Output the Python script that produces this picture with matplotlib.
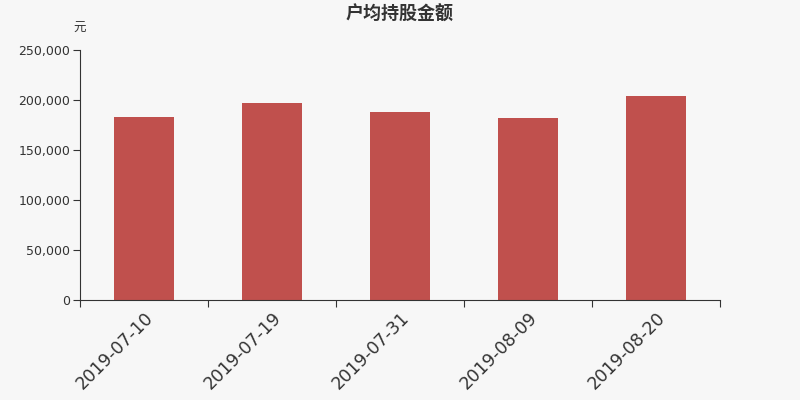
import matplotlib
matplotlib.use("Agg")
import matplotlib.pyplot as plt
from matplotlib.ticker import FuncFormatter, FixedLocator
import numpy as np

plt.rcParams['font.family'] = ['DejaVu Sans', 'Noto Sans CJK SC']

categories = ["2019-07-10", "2019-07-19", "2019-07-31", "2019-08-09", "2019-08-20"]
values = [183000, 197000, 188000, 182000, 204000]
yticks = [0, 50000, 100000, 150000, 200000, 250000]

bg = "#f7f7f7"
fig = plt.figure(figsize=(8, 4), dpi=100, facecolor=bg)
ax = fig.add_axes([0.1, 0.25, 0.8, 0.625], facecolor=bg)

x = np.arange(len(categories))
ax.bar(x, values, width=0.47, color="#c0504d", zorder=2)
ax.set_xlim(-0.5, len(categories) - 0.5)
ax.set_ylim(0, 250000)

ax.set_yticks(yticks)
ax.yaxis.set_major_formatter(FuncFormatter(lambda v, p: f"{int(v):,}"))
ax.tick_params(axis='y', labelsize=9, colors="#333333", length=5, pad=2, direction='out')

ax.xaxis.set_major_locator(FixedLocator(np.arange(-0.5, len(categories), 1.0)))
ax.set_xticklabels([])
ax.xaxis.set_minor_locator(FixedLocator(x))
ax.set_xticklabels(categories, minor=True, rotation=45, ha='right', rotation_mode='anchor', fontsize=12.5, color="#333333")
ax.tick_params(axis='x', which='major', length=5, direction='out', color="#333333")
ax.tick_params(axis='x', which='minor', length=0, pad=6)

for s in ['top', 'right']:
    ax.spines[s].set_visible(False)
for s in ['left', 'bottom']:
    ax.spines[s].set_color("#333333")

fig.text(0.5, 0.965, "户均持股金额", ha='center', va='center', fontsize=13, fontweight='bold', color="#333333",
         family=['Noto Sans CJK SC', 'DejaVu Sans'])
fig.text(0.1, 0.93, "元", ha='center', va='center', fontsize=9, color="#333333",
         family=['Noto Sans CJK SC', 'DejaVu Sans'])

fig.savefig("out.png", dpi=100, facecolor=bg)
